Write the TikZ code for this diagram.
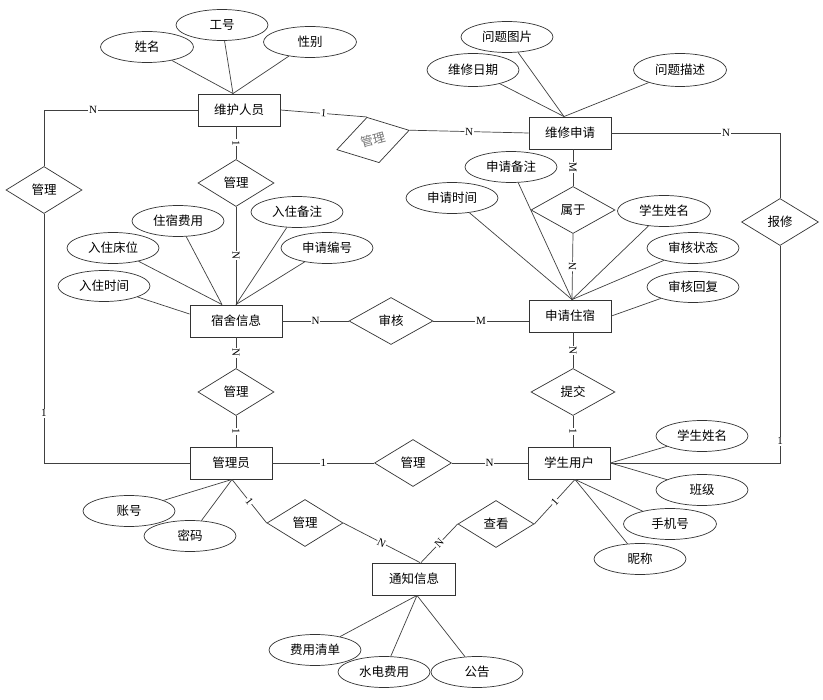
\documentclass[tikz,border=0pt]{standalone}
\usepackage{fontspec}
\setmainfont{Liberation Serif}
\newfontfamily\cjk{Noto Sans CJK SC}
\usetikzlibrary{shapes.geometric}
\begin{document}
\begin{tikzpicture}[x=1pt,y=-1pt,
  every node/.style={inner sep=0pt},
  ent/.style={draw=black!80, line width=0.9pt, fill=white, minimum width=82pt, minimum height=32pt, font=\cjk\fontsize{12.5}{14}\selectfont},
  attr/.style={ellipse, draw=black!80, line width=0.7pt, fill=white, minimum width=92pt, minimum height=31pt, font=\cjk\fontsize{12.5}{14}\selectfont},
  rel/.style={diamond, draw=black!80, line width=0.7pt, fill=white, minimum width=76pt, minimum height=47pt, font=\cjk\fontsize{12.5}{14}\selectfont},
  conn/.style={draw=black!75, line width=0.7pt},
  card/.style={fill=white, font=\fontsize{11}{12}\selectfont, inner sep=0.8pt, sloped},
]
\fill[white] (0,0) rectangle (823,700);
\useasboundingbox (0,0) rectangle (823,700);

% entities
\node[ent] (e1) at (239,110) {维护人员};
\node[ent] (e2) at (570,133) {维修申请};
\node[ent, minimum width=92pt] (e3) at (236,321) {宿舍信息};
\node[ent] (e4) at (570,316) {申请住宿};
\node[ent] (e5) at (231,463) {管理员};
\node[ent] (e6) at (569,463) {学生用户};
\node[ent, minimum width=83pt] (e7) at (414,579) {通知信息};

% relations
\node[rel] (r1) at (44,190) {管理};
\node[rel] (r2) at (236,183) {管理};
\node[rel, minimum width=75pt, rotate=15, text=black!55] (r3) at (373,140) {管理};
\node[rel, minimum width=84pt] (r4) at (573,210) {属于};
\node[rel, minimum width=84pt] (r5) at (391,321) {审核};
\node[rel, minimum width=77pt] (r6) at (780,222) {报修};
\node[rel] (r7) at (236,392) {管理};
\node[rel, minimum width=84pt] (r8) at (573,392) {提交};
\node[rel, minimum width=77pt] (r9) at (413,463) {管理};
\node[rel] (r10) at (305,523) {管理};
\node[rel] (r11) at (496,524) {查看};

% attributes
\node[attr, minimum width=93pt] (a1) at (147,47) {姓名};
\node[attr] (a2) at (222,25) {工号};
\node[attr, minimum width=93pt] (a3) at (310,42) {性别};
\node[attr] (a4) at (507,37) {问题图片};
\node[attr, minimum width=92pt, minimum height=33pt] (a5) at (473,70) {维修日期};
\node[attr, minimum width=93pt, minimum height=33pt] (a6) at (680,70) {问题描述};
\node[attr] (a7) at (511,167) {申请备注};
\node[attr] (a8) at (452,198) {申请时间};
\node[attr, minimum width=93pt] (a9) at (664,211) {学生姓名};
\node[attr] (a10) at (693,248) {审核状态};
\node[attr] (a11) at (693,287) {审核回复};
\node[attr] (a12) at (178,221) {住宿费用};
\node[attr] (a13) at (297,212) {入住备注};
\node[attr] (a14) at (113,248) {入住床位};
\node[attr] (a15) at (327,248) {申请编号};
\node[attr] (a16) at (104,286) {入住时间};
\node[attr] (a17) at (129,511) {账号};
\node[attr] (a18) at (190,536) {密码};
\node[attr] (a19) at (315,650) {费用清单};
\node[attr] (a20) at (384,672) {水电费用};
\node[attr] (a21) at (477,672) {公告};
\node[attr] (a22) at (702,436) {学生姓名};
\node[attr] (a23) at (702,490) {班级};
\node[attr, minimum width=93pt] (a24) at (670,524) {手机号};
\node[attr] (a25) at (640,559) {昵称};

% convergence points
\coordinate (p1) at ([xshift=-6pt]e1.north);
\coordinate (p2) at ([xshift=-6pt]e2.north);
\coordinate (p4) at ([xshift=2pt]e4.north);
\coordinate (p3a) at ([xshift=-14pt]e3.north);
\coordinate (p3b) at (e3.north);
\coordinate (p3c) at ([yshift=7pt]e3.west);
\coordinate (p5) at ([xshift=1pt]e5.south);
\coordinate (p7t) at ([xshift=6pt]e7.north);
\coordinate (p7b) at ([xshift=3pt]e7.south);
\coordinate (p6b) at ([xshift=6pt]e6.south);

% attribute lines
\begin{scope}[conn]
\draw (a1) -- (p1);
\draw (a2) -- (p1);
\draw (a3) -- (p1);
\draw (a4) -- (p2);
\draw (a5) -- (p2);
\draw (a6) -- (p2);
\draw (a7) -- (p4);
\draw (a8) -- (p4);
\draw (a9) -- (p4);
\draw (a10) -- (p4);
\draw (a11) -- (e4.east);
\draw (a12) -- (p3a);
\draw (a14) -- (p3a);
\draw (a13) -- (p3b);
\draw (a15) -- (p3b);
\draw (a16) -- (p3c);
\draw (a17) -- (p5);
\draw (a18) -- (p5);
\draw (a19) -- (p7b);
\draw (a20) -- (p7b);
\draw (a21) -- (p7b);
\draw (a22) -- (e6.east);
\draw (a23) -- (e6.east);
\draw (a24) -- (p6b);
\draw (a25) -- (p6b);
\end{scope}

% relation connectors
\begin{scope}[conn]
\draw (e1.west) -| (r1.north) node[card, pos=0.34] {N};
\draw (r1.south) |- (e5.west) node[card, pos=0.4, sloped=false] {1};
\draw (r2.north |- e1.south) -- (r2.north) node[card, midway] {1};
\draw (r2.south) -- (p3b) node[card, midway] {N};
\draw (e3.south) -- (r7.north) node[card, midway] {N};
\draw (r7.south) -- (r7.south |- e5.north) node[card, midway] {1};
\draw (e1.east) -- (r3.north) node[card, midway] {1};
\draw (r3.east) -- (e2.west) node[card, midway] {N};
\draw (r4.north |- e2.south) -- (r4.north) node[card, midway] {M};
\draw (r4.south) -- (p4) node[card, midway] {N};
\draw (r8.north |- e4.south) -- (r8.north) node[card, midway] {N};
\draw (r8.south) -- (r8.south |- e6.north) node[card, midway] {1};
\draw (e3.east) -- (r5.west) node[card, midway] {N};
\draw (r5.east) -- (r5.east -| e4.west) node[card, midway] {M};
\draw (e2.east) -| (r6.north) node[card, pos=0.34] {N};
\draw (r6.south) |- (e6.east) node[card, pos=0.45, sloped=false] {1};
\draw (e5.east) -- (r9.west) node[card, midway] {1};
\draw (r9.east) -- (e6.west) node[card, midway] {N};
\draw (p5) -- (r10.west) node[card, midway] {1};
\draw (r10.east) -- (p7t) node[card, midway] {N};
\draw (p6b) -- (r11.east) node[card, midway] {1};
\draw (r11.west) -- ([xshift=1pt]p7t) node[card, midway] {N};
\end{scope}
\end{tikzpicture}
\end{document}
